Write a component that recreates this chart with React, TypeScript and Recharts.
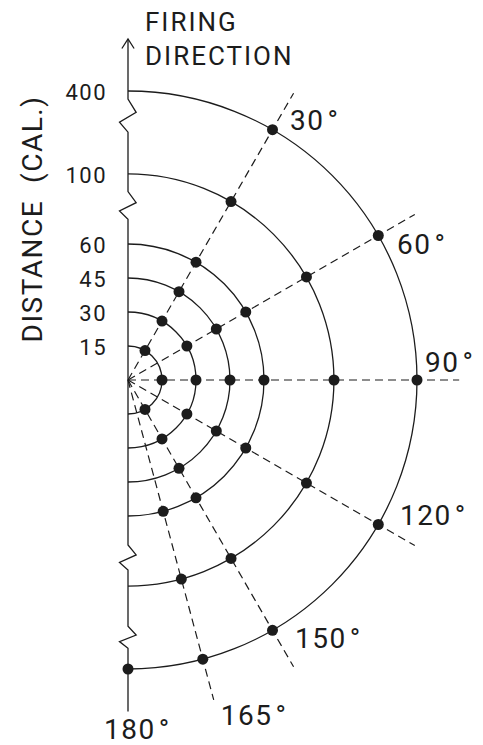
import React from 'react';
import { ScatterChart, Scatter, XAxis, YAxis, ReferenceLine, ReferenceArea, Customized } from 'recharts';

// ---- data ----
const distances = [15, 30, 45, 60, 100, 400];
// placement of each distance ring on the broken radial scale (ring units)
const ringPositions = [1, 2, 3, 4, 6.06, 8.5];
const directionAngles = [30, 60, 90, 120, 150, 165];
const labelAngles = [30, 60, 90, 120, 150, 165, 180];
const angleLabels = ['30°', '60°', '90°', '120°', '150°', '165°', '180°'];
// distances at which a point is marked along each direction
const points30 = [15, 30, 45, 60, 100, 400];
const points60 = [30, 45, 60, 100, 400];
const points90 = [15, 30, 45, 60, 100, 400];
const points120 = [30, 45, 60, 100, 400];
const points150 = [15, 30, 45, 60, 100, 400];
const points165 = [60, 100, 400];
const points180 = [400];
// axis breaks (top / bottom of each zigzag, ring units along the axis)
const axisBreaks = [
  { top: 8.26, bottom: 7.29 },
  { top: 5.54, bottom: 4.73 },
  { top: -4.85, bottom: -5.59 },
  { top: -7.24, bottom: -7.89 },
];
const axisTop = 10.03;
const axisBottom = -9.75;
const rayLength = 9.74;

// ---- layout ----
const W = 483;
const H = 745;
const U = 34; // px per ring unit
const CX = 128;
const CY = 380;
const xDomain = [-CX / U, (W - CX) / U];
const yDomain = [-(H - CY) / U, CY / U];
const INK = '#1c1c1c';
const FONT = "Roboto, 'Liberation Sans', Arial, sans-serif";

const rad = (a: number) => (a * Math.PI) / 180;
const polar = (r: number, a: number) => ({ x: r * Math.sin(rad(a)), y: r * Math.cos(rad(a)) });
const posOf = (d: number) => ringPositions[distances.indexOf(d)];

const series = [
  { angle: 30, d: points30 },
  { angle: 60, d: points60 },
  { angle: 90, d: points90 },
  { angle: 120, d: points120 },
  { angle: 150, d: points150 },
  { angle: 165, d: points165 },
  { angle: 180, d: points180 },
];
const dotData = series.flatMap(({ angle, d }) => d.map((dist) => ({ ...polar(posOf(dist), angle), angle, dist })));

const tickData = distances.map((d, i) => ({ x: 0, y: ringPositions[i], label: String(d) }));
const outerPos = ringPositions[ringPositions.length - 1];
const angleLabelData = labelAngles.map((a, i) => ({ ...polar(outerPos, a), label: angleLabels[i], angle: a }));

const axisData = (() => {
  const pts: { x: number; y: number }[] = [{ x: 0, y: axisTop }];
  axisBreaks.forEach(({ top, bottom }) => {
    const h = top - bottom;
    pts.push({ x: 0, y: top });
    pts.push({ x: 0.24, y: top - 0.4 * h });
    pts.push({ x: -0.25, y: top - 0.7 * h });
    pts.push({ x: 0, y: bottom });
  });
  pts.push({ x: 0, y: axisBottom });
  return pts;
})();
const arrowData = [
  { x: -0.18, y: axisTop - 0.28 },
  { x: 0, y: axisTop },
  { x: 0.18, y: axisTop - 0.28 },
];

const labelOffsets: Record<number, [number, number]> = {
  30: [17.5, 0],
  60: [18.7, 18],
  90: [8, -8.3],
  120: [21.7, 0],
  150: [22.5, 17.4],
  165: [18, 66],
  180: [-24, 70],
};

const RingArc = (p: any) => (
  <path
    d={`M${p.x},${p.y} A${p.width},${p.height / 2} 0 0 1 ${p.x},${p.y + p.height}`}
    fill="none"
    stroke={INK}
    strokeWidth={1.3}
  />
);

const Dot = (p: any) => <circle cx={p.cx} cy={p.cy} r={5.5} fill={INK} />;
const Nothing = () => <g />;

const TickText = (p: any) => (
  <text
    x={p.cx - 21}
    y={p.cy + 9}
    textAnchor="end"
    fontFamily={FONT}
    fontSize={22}
    letterSpacing={1.5}
    fill={INK}
  >
    {p.payload.label}
  </text>
);

const AngleText = (p: any) => {
  const [dx, dy] = labelOffsets[p.payload.angle] || [10, 0];
  const s: string = p.payload.label;
  return (
    <text x={p.cx + dx} y={p.cy + dy} fontFamily={FONT} fontSize={28} letterSpacing={1.5} fill={INK}>
      {s.slice(0, -1)}
      <tspan dx={3}>°</tspan>
    </text>
  );
};

const Titles = () => (
  <g fontFamily={FONT} fill={INK}>
    <text x={145} y={30.7} fontSize={26} letterSpacing={2}>FIRING</text>
    <text x={145} y={65} fontSize={26} letterSpacing={2}>DIRECTION</text>
    <text
      x={42}
      y={219}
      fontSize={28}
      letterSpacing={1.5}
      textAnchor="middle"
      transform="rotate(-90 42 219)"
      style={{ whiteSpace: 'pre' }}
    >
      {'DISTANCE  (CAL.)'}
    </text>
  </g>
);

export default function App() {
  return (
    <div style={{ position: 'absolute', left: 0, top: 0, width: W, height: H, background: '#fff' }}>
      <ScatterChart width={W} height={H} margin={{ top: 0, right: 0, bottom: 0, left: 0 }}>
        <XAxis type="number" dataKey="x" domain={xDomain} allowDataOverflow hide />
        <YAxis type="number" dataKey="y" domain={yDomain} allowDataOverflow hide />
        {ringPositions.map((r) => (
          <ReferenceArea key={`ring-${r}`} x1={0} x2={r} y1={-r} y2={r} shape={RingArc} ifOverflow="visible" />
        ))}
        {directionAngles.map((a) => (
          <ReferenceLine
            key={`ray-${a}`}
            segment={[{ x: 0, y: 0 }, polar(rayLength, a)]}
            stroke={INK}
            strokeWidth={1.2}
            strokeDasharray="8 5"
            ifOverflow="visible"
          />
        ))}
        <Scatter data={axisData} line={{ stroke: INK, strokeWidth: 1.3 }} shape={Nothing} isAnimationActive={false} />
        <Scatter data={arrowData} line={{ stroke: INK, strokeWidth: 1.3 }} shape={Nothing} isAnimationActive={false} />
        <Scatter data={dotData} shape={Dot} isAnimationActive={false} />
        <Scatter data={tickData} shape={TickText} isAnimationActive={false} />
        <Scatter data={angleLabelData} shape={AngleText} isAnimationActive={false} />
        <Customized component={Titles} />
      </ScatterChart>
    </div>
  );
}
